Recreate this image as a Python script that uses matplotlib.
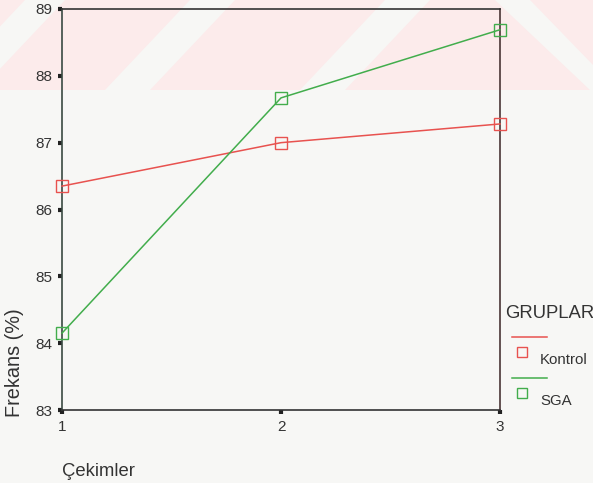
import matplotlib
matplotlib.use("Agg")
import matplotlib.pyplot as plt
from matplotlib.lines import Line2D
from matplotlib.patches import Polygon, Rectangle

plt.rcParams['font.family'] = ['Liberation Sans', 'DejaVu Sans']

# Measurements (Çekimler 1..3)
cekimler = [1, 2, 3]
kontrol = [86.35, 87.0, 87.28]
sga = [84.15, 87.67, 88.69]
y_ticks = [83, 84, 85, 86, 87, 88, 89]
group_names = ["Kontrol", "SGA"]
group_colors = ["#e8524f", "#42ad4c"]

W, H = 593, 483
BG = "#f7f7f5"
fig = plt.figure(figsize=(W / 100, H / 100), dpi=100)
fig.patch.set_facecolor(BG)


def px_poly(pts, color):
    fig.add_artist(Polygon([(px / W, 1 - py / H) for px, py in pts], closed=True,
                           transform=fig.transFigure, facecolor=color,
                           edgecolor="none", zorder=0))


# faint pink striped band across the top
fig.add_artist(Rectangle((0, 1 - 90 / H), 1, 90 / H, transform=fig.transFigure,
                         facecolor="#fcebeb", edgecolor="none", zorder=0))
for x0, w in [(-60, 40), (105, 45), (300, 45)]:
    px_poly([(x0, 90), (x0 + w, 90), (x0 + w + 85, 0), (x0 + 85, 0)], BG)
px_poly([(495, 0), (530, 0), (593, 65), (593, 90), (590, 90)], BG)

ax = fig.add_axes([62 / W, 1 - 410 / H, (500 - 62) / W, (410 - 9) / H])
ax.set_facecolor("none")

for vals, color in zip([kontrol, sga], group_colors):
    ax.plot(cekimler, vals, color=color, lw=1.1, marker="s", markersize=8,
            markerfacecolor="none", markeredgecolor=color, markeredgewidth=1.0,
            clip_on=False, zorder=3)

ax.set_xlim(1, 3)
ax.set_ylim(83, 89)
ax.set_xticks(cekimler)
ax.set_yticks(y_ticks)
ax.tick_params(direction="out", length=3, width=3, color="#222222",
               labelsize=11, labelcolor="#333333", pad=4)

ax.spines["left"].set_color("#3a4a42")
ax.spines["right"].set_color("#4a3535")
ax.spines["top"].set_color("#333333")
ax.spines["bottom"].set_color("#333333")
for s in ax.spines.values():
    s.set_linewidth(1.2)

fig.text(62 / W, 1 - 471 / H, "Çekimler", fontsize=13.3, color="#333333",
         ha="left", va="center")
fig.text(15 / W, 1 - 363 / H, "Frekans (%)", fontsize=14.3, color="#333333",
         rotation=90, ha="center", va="center")

# legend block
fig.text(505 / W, 1 - 313 / H, "GRUPLAR", fontsize=13.3, color="#333333",
         ha="left", va="center")
for i, (name, color) in enumerate(zip(group_names, group_colors)):
    ly = 337 + i * 41
    fig.add_artist(Line2D([512 / W, 547 / W], [1 - ly / H, 1 - ly / H],
                          transform=fig.transFigure, color=color, lw=1.1))
    fig.add_artist(Line2D([522 / W], [1 - (ly + 15) / H], transform=fig.transFigure,
                          marker="s", markersize=7, markerfacecolor="none",
                          markeredgecolor=color, markeredgewidth=1.0, linestyle="none"))
    fig.text(540 / W, 1 - (ly + 23) / H, name, fontsize=10.8, color="#333333",
             ha="left", va="center")

fig.savefig("out.png", dpi=100, facecolor=fig.get_facecolor())
